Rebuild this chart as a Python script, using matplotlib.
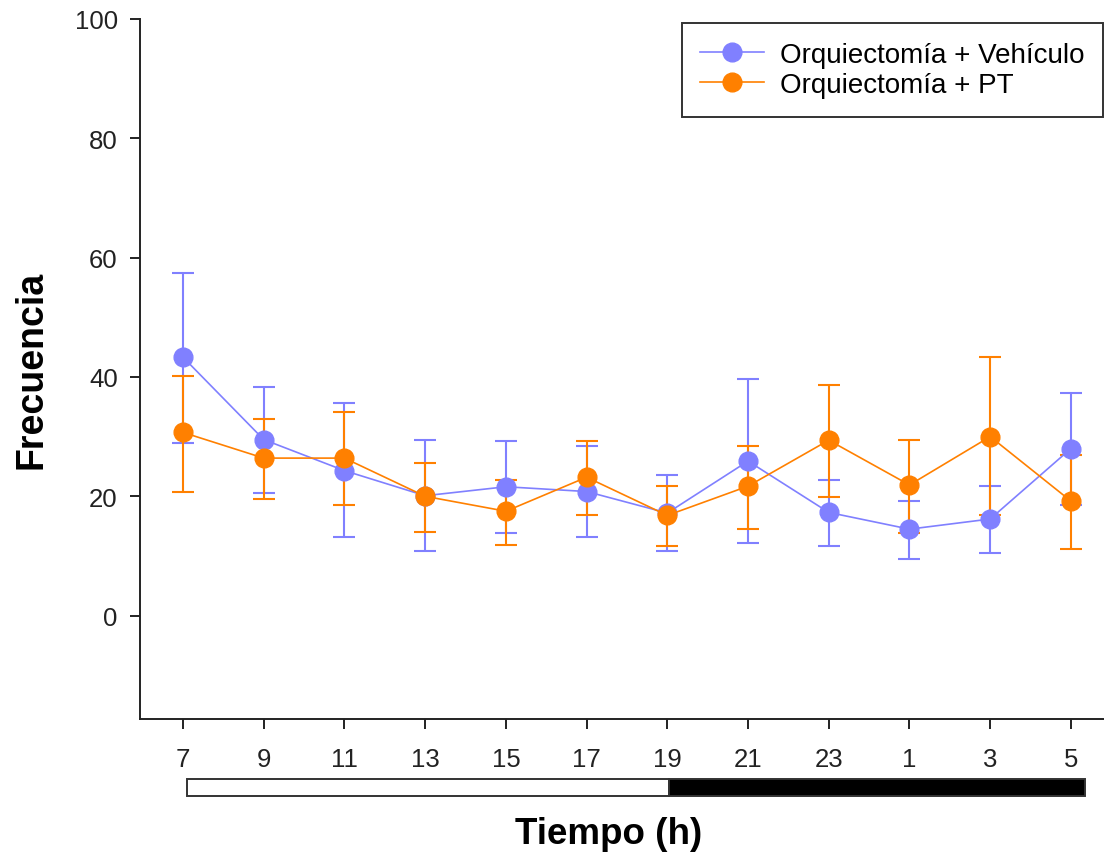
import matplotlib
matplotlib.use("Agg")
import matplotlib.pyplot as plt
import matplotlib.transforms as mtransforms
from matplotlib.patches import Rectangle
from matplotlib.lines import Line2D

plt.rcParams['font.family'] = ['Liberation Sans', 'DejaVu Sans']

hours = ['7', '9', '11', '13', '15', '17', '19', '21', '23', '1', '3', '5']

veh_mean = [43.3, 29.5, 24.3, 20.1, 21.6, 20.8, 17.2, 25.9, 17.3, 14.5, 16.2, 28.0]
veh_upper = [57.4, 38.3, 35.6, 29.5, 29.2, 28.5, 23.5, 39.6, 22.8, 19.2, 21.8, 37.3]
veh_lower = [28.9, 20.5, 13.2, 10.8, 13.8, 13.2, 10.8, 12.2, 11.6, 9.5, 10.5, 18.5]

pt_mean = [30.7, 26.4, 26.4, 20.0, 17.5, 23.2, 16.8, 21.7, 29.4, 21.9, 30.0, 19.2]
pt_upper = [40.2, 32.9, 34.2, 25.5, 22.8, 29.2, 21.8, 28.5, 38.6, 29.5, 43.3, 26.9]
pt_lower = [20.8, 19.5, 18.5, 14.1, 11.8, 16.9, 11.6, 14.5, 19.9, 13.9, 16.8, 11.1]

labels = ['Orquiectomía + Vehículo', 'Orquiectomía + PT']
colors = ['#8080FF', '#FF8000']

light_start, light_end, dark_end = 0.05, 6.02, 11.17

W, H = 1104, 853
fig = plt.figure(figsize=(W / 100, H / 100), dpi=100)
ax_left, ax_right, ax_top, ax_bottom = 140, 1104, 19.7, 720
ax = fig.add_axes([ax_left / W, 1 - ax_bottom / H, (ax_right - ax_left) / W, (ax_bottom - ax_top) / H])

x = list(range(len(hours)))
series = [(veh_mean, veh_lower, veh_upper), (pt_mean, pt_lower, pt_upper)]
handles = []
for (m, lo, up), lab, c in zip(series, labels, colors):
    yerr = [[mm - l for mm, l in zip(m, lo)], [u - mm for mm, u in zip(m, up)]]
    ax.errorbar(x, m, yerr=yerr, color=c, marker='o', markersize=13.5, lw=1.2,
                elinewidth=1.5, capsize=8, capthick=1.5)
    handles.append(Line2D([], [], color=c, marker='o', markersize=13.5, lw=1.2, label=lab))

ax.set_xlim(-0.533, 11.41)
ax.set_ylim(-17.3, 100)
ax.set_xticks(x)
ax.set_xticklabels(hours)
ax.set_yticks([0, 20, 40, 60, 80, 100])
ax.spines['top'].set_visible(False)
ax.spines['right'].set_visible(False)
for s in ['left', 'bottom']:
    ax.spines[s].set_linewidth(1.4)
    ax.spines[s].set_color('#222222')
ax.tick_params(axis='both', labelsize=18.5, length=7, width=1.4, colors='#222222')
ax.tick_params(axis='x', pad=13)
ax.tick_params(axis='y', pad=9)

ax.set_ylabel('Frecuencia', fontsize=27, fontweight='bold', labelpad=18)
ax.set_xlabel('Tiempo (h)', fontsize=26.5, fontweight='bold')
ax.xaxis.set_label_coords((609 - ax_left) / (ax_right - ax_left), -0.139, transform=ax.transAxes)
ax.xaxis.label.set_verticalalignment('top')

trans = mtransforms.blended_transform_factory(ax.transData, ax.transAxes)
y0, y1 = -0.1100, -0.0857
ax.add_patch(Rectangle((light_start, y0), light_end - light_start, y1 - y0, transform=trans,
                       facecolor='white', edgecolor='#333333', lw=1.4, clip_on=False))
ax.add_patch(Rectangle((light_end, y0), dark_end - light_end, y1 - y0, transform=trans,
                       facecolor='black', edgecolor='#333333', lw=1.4, clip_on=False))

leg = ax.legend(handles=handles, loc='upper right',
                bbox_to_anchor=(1103 / W, 1 - 24 / H), bbox_transform=fig.transFigure,
                borderaxespad=0, fontsize=20, frameon=True, fancybox=False,
                edgecolor='black', handlelength=2.3, handletextpad=0.55,
                borderpad=0.68, labelspacing=0.15)
leg.get_frame().set_linewidth(1.4)

fig.savefig('out.png', dpi=100)
